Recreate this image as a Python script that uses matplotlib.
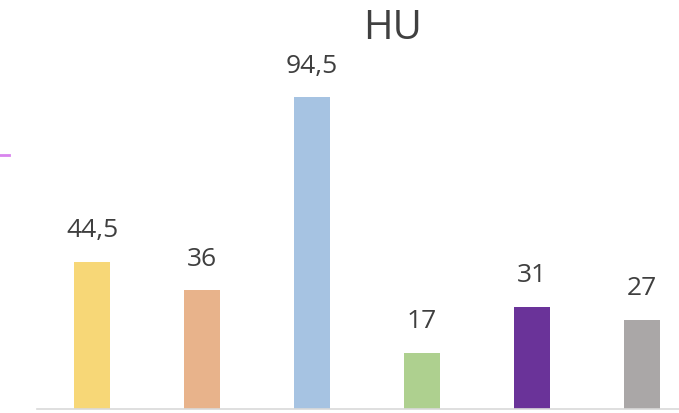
import matplotlib
matplotlib.use("Agg")
import matplotlib.pyplot as plt
from matplotlib.lines import Line2D

plt.rcParams['font.family'] = ['Open Sans', 'DejaVu Sans']

title = "HU"
categories = ["A", "B", "C", "D", "E", "F"]
values = [44.5, 36, 94.5, 17, 31, 27]
labels = ["44,5", "36", "94,5", "17", "31", "27"]
colors = ["#F7D777", "#E8B38B", "#A6C3E2", "#AED08F", "#6A3399", "#AAA7A7"]

W, H = 679, 413
fig = plt.figure(figsize=(W / 100, H / 100), dpi=100)
ax = fig.add_axes([37 / W, 4 / H, 1 - 37 / W, 409 / H])

x = list(range(len(categories)))
ax.bar(x, values, width=0.32, color=colors, zorder=2)
for xi, v, lab in zip(x, values, labels):
    ax.annotate(lab, (xi, v), xytext=(0, 13.5), textcoords="offset points",
                ha="center", va="bottom", fontsize=19, color="#3F3F3F")

ax.set_xlim(-0.5, 5.336)
ax.set_ylim(0, 124)
for s in ["top", "right", "left"]:
    ax.spines[s].set_visible(False)
ax.spines["bottom"].set_color("#D9D9D9")
ax.spines["bottom"].set_linewidth(1.2)
ax.set_xticks([])
ax.set_yticks([])

fig.text(393 / W, 1 - 29 / H, title, ha="center", va="center",
         fontsize=29, color="#404040")

# short accent line at the left edge
fig.add_artist(Line2D([0, 9 / W], [1 - 155 / H, 1 - 155 / H],
                      transform=fig.transFigure, color="#D884EE", lw=2))

fig.savefig("out.png", dpi=100)
